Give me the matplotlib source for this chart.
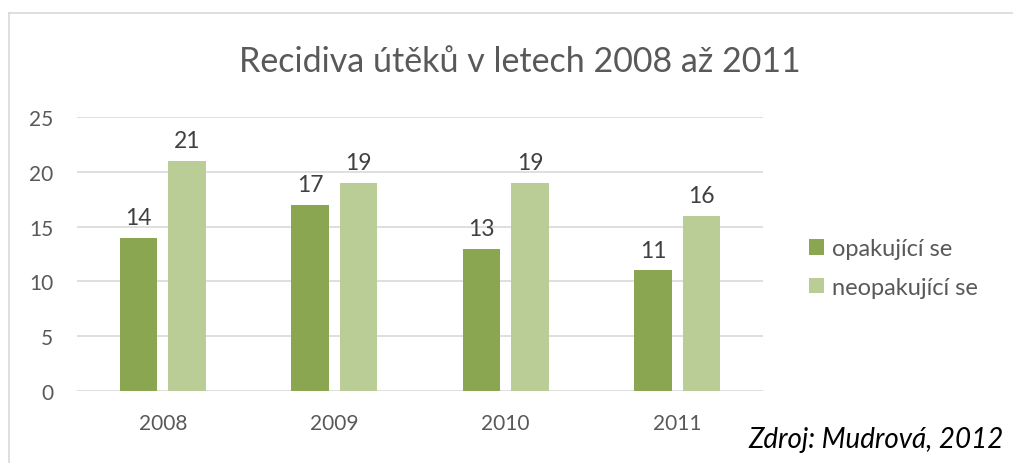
import numpy as np
import matplotlib.pyplot as plt
from matplotlib.lines import Line2D

years = ['2008', '2009', '2010', '2011']
opakujici = [14, 17, 13, 11]
neopakujici = [21, 19, 19, 16]
serie_names = ['opakující se', 'neopakující se']

c_dark = '#8BA650'
c_light = '#BACD96'
grey = '#595959'

plt.rcParams['font.family'] = ['Lato', 'DejaVu Sans']

fig = plt.figure(figsize=(10.13, 4.64), dpi=100)
ax = fig.add_axes([77/1013, 1 - 392/464, 686/1013, 274/464])

x = np.arange(len(years))
w = 0.22
off = 0.142
b1 = ax.bar(x - off, opakujici, w, color=c_dark, label=serie_names[0], zorder=3)
b2 = ax.bar(x + off, neopakujici, w, color=c_light, label=serie_names[1], zorder=3)
ax.bar_label(b1, padding=7, fontsize=16.5, color='#404040')
ax.bar_label(b2, padding=7, fontsize=16.5, color='#404040')

ax.set_xlim(-0.5, 3.5)
ax.set_ylim(0, 25)
ax.set_yticks(range(0, 26, 5))
ax.set_xticks(x)
ax.set_xticklabels(years)
ax.yaxis.grid(True, color='#D9D9D9', linewidth=1.2, zorder=0)
ax.tick_params(length=0, labelsize=15, colors=grey)
ax.tick_params(axis='x', pad=16)
ax.tick_params(axis='y', pad=17)
for s in ax.spines.values():
    s.set_visible(False)

fig.text(0.513, 1 - 62/464, 'Recidiva útěků v letech 2008 až 2011',
         ha='center', va='center', fontsize=24.5, color=grey)

fig.legend(handles=[b1, b2], loc='upper left',
           bbox_to_anchor=(788/1013, 1 - 218/464), frameon=False,
           handlelength=0.62, handleheight=0.62, handletextpad=0.35,
           labelspacing=0.75, fontsize=17, labelcolor=grey)

fig.text(1004/1013, 1 - 440/464, 'Zdroj: Mudrová, 2012', ha='right',
         va='center', fontsize=20, style='italic', color='black')

# chart border
fig.add_artist(Line2D([9/1013, 9/1013], [0, 1 - 14/464], color='#D9D9D9',
                      linewidth=1.2, transform=fig.transFigure))
fig.add_artist(Line2D([9/1013, 1], [1 - 14/464, 1 - 14/464], color='#D9D9D9',
                      linewidth=1.2, transform=fig.transFigure))

fig.savefig('out.png', dpi=100)
